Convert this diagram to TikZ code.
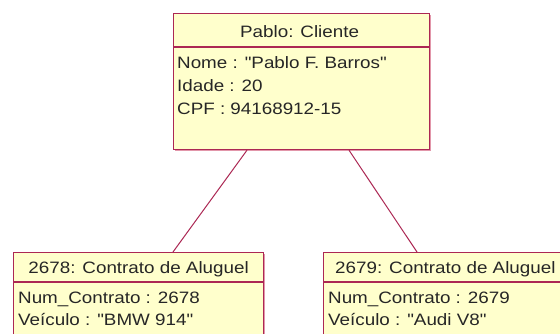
\documentclass[tikz,border=0pt]{standalone}
\usepackage{fontspec}
\setmainfont[FakeStretch=1.14, Ligatures=TeXOff]{Liberation Sans}
\usetikzlibrary{calc,shadows}
\definecolor{umlred}{RGB}{172,40,84}
\definecolor{umlshadow}{RGB}{226,150,170}
\definecolor{umlfill}{RGB}{255,255,204}
\begin{document}
\begin{tikzpicture}[x=1pt,y=-1pt,
  objbox/.style={draw=umlred, fill=umlfill, line width=1.2pt, inner sep=0pt, anchor=north west,
    drop shadow={shadow xshift=1.4pt, shadow yshift=-1.4pt, fill=umlshadow, opacity=1}},
  sep/.style={draw=umlred, line width=1.2pt},
  title/.style={font=\fontsize{16.5}{18}\selectfont, inner sep=0pt, anchor=base, text=black!85},
  attr/.style={font=\fontsize{16.5}{18}\selectfont, inner sep=0pt, anchor=base west, text=black!85},
  link/.style={draw=umlred, line width=1pt}]
\useasboundingbox (0,0) rectangle (560,334);
\clip (0,0) rectangle (560,334);
\fill[white] (0,0) rectangle (560,334);
% Cliente
\node[objbox, minimum width=256pt, minimum height=136pt] (cli) at (173,13) {};
\draw[sep] ($(cli.north west)+(0,34)$) -- ($(cli.north east)+(0,34)$);
\node[title] (cliT) at ($(cli.north)+(-2,25)$) {Pablo: Cliente};
\node[attr] (cliA1) at (177,69) {Nome : "Pablo F. Barros"};
\node[attr] (cliA2) at (177,92) {Idade : 20};
\node[attr] (cliA3) at (177,115) {CPF : 94168912-15};
% Contrato 2678
\node[objbox, minimum width=250pt, minimum height=120pt] (c1) at (13,252) {};
\draw[sep] ($(c1.north west)+(0,30)$) -- ($(c1.north east)+(0,30)$);
\node[title] (c1T) at ($(c1.north)+(0,21)$) {2678: Contrato de Aluguel};
\node[attr] (c1A1) at (18,303) {Num\_Contrato : 2678};
\node[attr] (c1A2) at (18,325) {Veículo : "BMW 914"};
% Contrato 2679
\node[objbox, minimum width=260pt, minimum height=120pt] (c2) at (323,252) {};
\draw[sep] ($(c2.north west)+(0,30)$) -- ($(c2.north east)+(0,30)$);
\node[title, anchor=base west] (c2T) at ($(c2.north west)+(12,21)$) {2679: Contrato de Aluguel};
\node[attr] (c2A1) at (328,303) {Num\_Contrato : 2679};
\node[attr] (c2A2) at (328,325) {Veículo : "Audi V8"};
% links
\coordinate (p1) at ($(cli.south west)+(74,0)$);
\coordinate (p2) at ($(cli.south west)+(176,0)$);
\coordinate (q1) at ($(c1.north west)+(160,0)$);
\coordinate (q2) at ($(c2.north west)+(94,0)$);
\draw[link] (p1) -- (q1);
\draw[link] (p2) -- (q2);
\end{tikzpicture}
\end{document}
